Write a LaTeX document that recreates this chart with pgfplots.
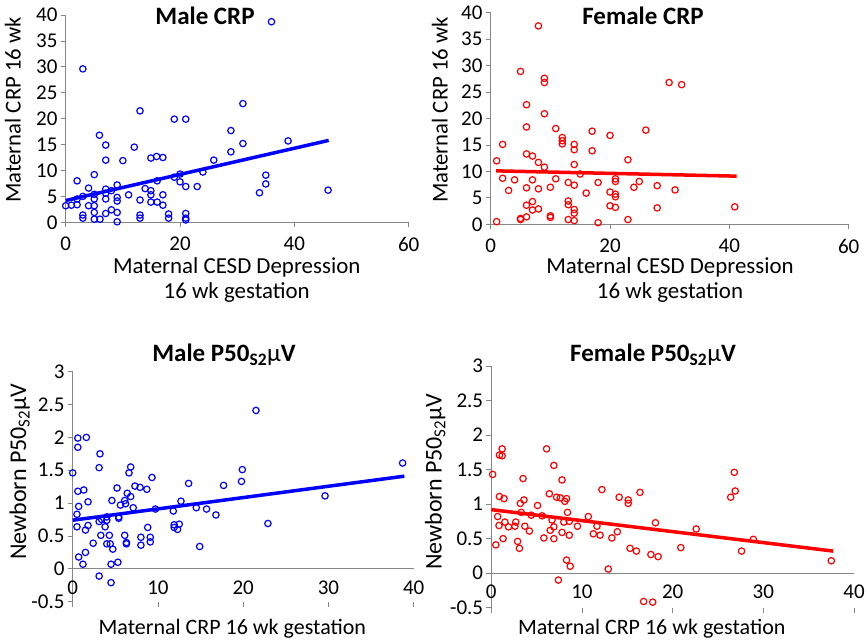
\documentclass[border=0pt]{standalone}
\usepackage{fontspec}
\setmainfont{Carlito}
\usepackage{pgfplots}
\pgfplotsset{compat=1.18}
\definecolor{axgray}{RGB}{134,134,134}
\definecolor{myblue}{RGB}{0,0,255}
\definecolor{myred}{RGB}{255,0,0}
\pgfplotsset{
  myax/.style={
    scale only axis, anchor=south west, clip=false,
    axis y line*=left,
    axis line style={draw=axgray, line width=0.8pt},
    every tick/.style={draw=axgray, line width=0.8pt},
    major tick length=5pt, tick align=outside,
    ticklabel style={font=\fontsize{21}{23}\selectfont, inner sep=0pt},
    yticklabel style={xshift=-3pt},
    /pgf/number format/assume math mode=true,
    xtick pos=bottom, ytick pos=left,
    hide obscured x ticks=false, hide obscured y ticks=false,
  },
  pts/.style={only marks, mark=o, mark size=3.2pt, mark options={line width=1.2pt}},
}
\newcommand{\labA}{\fontsize{22.9}{25}\selectfont}
\newcommand{\labY}{\fontsize{22.7}{24}\selectfont}
\newcommand{\labB}{\fontsize{22}{24}\selectfont}
\newcommand{\labN}{\fontsize{24}{26}\selectfont}
\newcommand{\ttl}{\fontsize{25}{27}\selectfont\bfseries}
\tikzset{lbl/.style={anchor=base, inner sep=0pt}}
\begin{document}
\begin{tikzpicture}
\useasboundingbox (0pt,0pt) rectangle (867pt,644pt);

% ---------------- Male CRP ----------------
\begin{axis}[myax, axis x line*=bottom, at={(65.7pt,421.7pt)}, width=343pt, height=207.3pt,
  xmin=0, xmax=60, ymin=0, ymax=40, xtick={0,20,40,60}, ytick={0,5,...,40},
  xticklabel style={yshift=-9.5pt}]
\addplot[pts, color=myblue] coordinates {
(36.0,38.7)(3.0,29.6)(13.0,21.5)(19.0,19.9)(21.0,19.9)(31.0,22.9)(28.9,17.7)(5.9,16.8)
(7.0,14.9)(12.0,14.5)(31.0,15.2)(38.9,15.7)(28.9,13.6)(14.9,12.4)(15.9,12.7)(17.0,12.5)
(7.0,12.0)(10.0,11.9)(25.9,12.0)(24.0,9.7)(20.0,9.3)(19.0,8.7)(5.0,9.2)(2.0,8.0)
(16.0,8.0)(20.0,7.8)(35.0,9.1)(35.0,7.4)(21.0,6.9)(23.0,6.9)(45.9,6.2)(33.9,5.7)
(4.0,6.6)(9.0,7.2)(7.0,6.4)(8.0,6.1)(13.9,6.5)(14.9,6.1)(14.9,5.3)(17.0,5.3)
(11.0,5.3)(5.0,5.4)(3.0,5.0)(7.0,5.6)(7.0,4.5)(5.0,4.5)(9.0,4.8)(9.0,4.1)
(13.0,4.3)(14.9,3.9)(16.0,3.9)(2.0,4.5)(2.0,3.4)(1.0,3.3)(0.0,3.2)(4.0,3.2)
(5.0,3.2)(17.0,3.3)(8.0,2.4)(7.0,1.7)(5.0,1.9)(9.0,1.9)(3.0,1.4)(3.0,0.8)
(13.0,1.4)(13.0,0.8)(18.0,1.6)(18.0,0.8)(21.0,1.7)(21.0,0.8)(5.0,0.6)(6.0,0.6)
(9.0,0.1)(21.0,0.45)
};
\addplot[color=myblue, line width=3.5pt] coordinates {(0,4.2)(46,15.8)};
\end{axis}

% ---------------- Female CRP ----------------
\begin{axis}[myax, axis x line*=bottom, at={(490.7pt,419.7pt)}, width=358pt, height=211.6pt,
  xmin=0, xmax=60, ymin=0, ymax=40, xtick={0,20,40,60}, ytick={0,5,...,40},
  xticklabel style={yshift=-9.5pt}]
\addplot[pts, color=myred] coordinates {
(8.0,37.5)(5.0,28.9)(9.0,27.6)(9.0,26.8)(29.9,26.8)(32.0,26.4)(6.0,22.6)(9.0,20.9)
(6.0,18.4)(10.9,18.1)(17.0,17.6)(26.0,17.8)(20.0,16.8)(12.0,16.4)(12.0,15.8)(12.0,15.2)
(2.0,15.1)(14.0,15.1)(14.0,14.1)(17.0,13.9)(6.0,13.3)(7.0,12.9)(23.0,12.2)(1.0,12.0)
(8.0,11.7)(14.0,11.3)(9.0,10.8)(15.0,9.5)(2.0,8.7)(4.0,8.4)(7.0,8.4)(10.9,8.6)
(20.9,8.6)(20.9,8.1)(24.9,8.1)(13.0,7.9)(18.0,7.9)(14.0,7.4)(27.9,7.3)(6.0,6.9)
(10.0,7.0)(24.0,7.0)(8.0,6.7)(3.0,6.4)(30.9,6.5)(20.0,6.1)(16.0,5.9)(20.9,5.7)
(20.9,5.2)(7.0,4.3)(13.0,4.4)(13.0,3.7)(6.0,3.6)(20.0,3.5)(20.9,3.2)(27.9,3.1)
(40.9,3.3)(8.0,2.9)(14.0,2.8)(7.0,2.7)(14.0,2.1)(6.0,1.4)(10.0,1.6)(10.0,1.3)
(5.0,1.1)(5.0,0.9)(13.0,0.9)(23.0,0.9)(14.0,0.7)(1.0,0.5)(18.0,0.3)
};
\addplot[color=myred, line width=3.5pt] coordinates {(0.9,10.1)(41.2,9.1)};
\end{axis}

% ---------------- Male P50 ----------------
\begin{axis}[myax, axis x line*=middle, at={(72.7pt,42.3pt)}, width=341pt, height=230pt,
  xmin=0, xmax=40, ymin=-0.5, ymax=3, xtick={0,10,...,40}, ytick={-0.5,0,...,3},
  xticklabel style={yshift=-7pt}]
\addplot[pts, color=myblue] coordinates {
(21.5,2.41)(38.7,1.61)(0.0,1.46)(0.6,1.99)(1.6,2.00)(0.6,1.85)(3.2,1.75)(3.1,1.54)
(6.8,1.55)(6.6,1.46)(9.3,1.39)(19.9,1.51)(19.8,1.33)(13.6,1.30)(17.7,1.27)(5.2,1.23)
(7.3,1.26)(7.9,1.24)(8.7,1.21)(0.6,1.18)(1.3,1.20)(6.4,1.15)(6.8,1.10)(29.6,1.11)
(1.8,1.02)(4.6,1.04)(12.7,1.03)(6.1,1.04)(6.2,0.99)(5.6,0.97)(0.7,0.95)(7.1,0.93)
(9.7,0.91)(14.5,0.93)(15.7,0.91)(11.8,0.88)(16.8,0.82)(0.5,0.83)(5.4,0.79)(4.0,0.79)
(3.4,0.75)(3.1,0.72)(4.0,0.74)(5.4,0.77)(22.9,0.69)(1.8,0.66)(0.5,0.64)(3.8,0.64)
(8.8,0.63)(11.9,0.67)(12.5,0.68)(11.9,0.63)(12.3,0.60)(1.5,0.59)(3.3,0.51)(4.3,0.51)
(6.1,0.51)(9.1,0.48)(8.0,0.48)(2.4,0.39)(4.0,0.38)(4.4,0.38)(6.3,0.40)(6.3,0.38)
(9.1,0.41)(8.0,0.36)(4.7,0.30)(14.9,0.34)(1.5,0.25)(0.7,0.18)(5.3,0.10)(1.2,0.07)
(4.5,0.07)(3.1,-0.11)(4.5,-0.21)
};
\addplot[color=myblue, line width=3.5pt] coordinates {(0,0.74)(38.9,1.41)};
\end{axis}

% ---------------- Female P50 ----------------
\begin{axis}[myax, axis x line*=middle, at={(491.3pt,36.3pt)}, width=362.7pt, height=241.7pt,
  xmin=0, xmax=40, ymin=-0.5, ymax=3, xtick={0,10,...,40}, ytick={-0.5,0,...,3},
  xticklabel style={yshift=-7pt}]
\addplot[pts, color=myred] coordinates {
(0.15,1.43)(0.5,0.41)(1.2,1.80)(0.9,1.71)(1.2,1.70)(0.9,1.11)(1.4,1.08)(0.7,0.82)
(0.85,0.69)(1.5,0.74)(1.3,0.50)(1.9,0.67)(2.7,0.74)(2.6,0.68)(2.9,0.46)(3.1,0.36)
(3.5,1.37)(3.6,1.06)(3.2,1.01)(3.3,0.88)(3.7,0.68)(4.2,0.61)(4.4,0.84)(5.1,0.98)
(5.6,0.83)(5.8,0.51)(6.1,1.80)(6.4,1.15)(6.5,0.62)(6.7,0.77)(6.9,0.67)(6.9,0.50)
(6.9,1.56)(7.2,1.10)(7.6,1.09)(7.4,-0.10)(7.8,1.35)(7.8,0.59)(8.0,0.74)(8.1,1.04)
(8.3,1.08)(8.4,0.88)(8.3,0.19)(8.6,0.75)(8.6,0.55)(8.7,0.10)(9.5,0.68)(10.7,0.82)
(11.25,0.57)(11.65,0.68)(12.0,0.55)(12.2,1.21)(12.9,0.06)(13.3,0.51)(13.9,0.60)(14.1,1.10)
(15.1,1.06)(15.1,1.01)(15.3,0.36)(16.0,0.32)(16.4,1.17)(16.8,-0.41)(17.8,-0.42)(17.6,0.27)
(18.1,0.73)(18.4,0.24)(20.9,0.37)(22.6,0.64)(26.4,1.10)(26.8,1.46)(26.9,1.19)(27.6,0.32)
(28.9,0.49)(37.5,0.18)
};
\addplot[color=myred, line width=3.5pt] coordinates {(0,0.92)(37.7,0.32)};
\end{axis}

% ---------------- titles ----------------
\node[lbl] at (205pt,619pt) {\ttl Male CRP};
\node[lbl] at (643pt,619pt) {\ttl Female CRP};
\node[lbl] at (224pt,282.3pt) {\ttl Male P50\textsubscript{S2}\textmd{μ}V};
\node[lbl] at (653pt,282.3pt) {\ttl Female P50\textsubscript{S2}\textmd{μ}V};

% ---------------- axis labels ----------------
\node[lbl] at (236.7pt,370.3pt) {\labA Maternal CESD Depression};
\node[lbl] at (236.7pt,345.2pt) {\labA 16 wk gestation};
\node[lbl] at (670pt,370.3pt) {\labA Maternal CESD Depression};
\node[lbl] at (670pt,345.2pt) {\labA 16 wk gestation};
\node[lbl, rotate=90] at (20.7pt,534pt) {\labY Maternal CRP 16 wk};
\node[lbl, rotate=90] at (447.5pt,534pt) {\labY Maternal CRP 16 wk};
\node[lbl] at (232.3pt,9.7pt) {\labB Maternal CRP 16 wk gestation};
\node[lbl] at (651.7pt,9pt) {\labB Maternal CRP 16 wk gestation};
\node[lbl, rotate=90] at (26pt,172.3pt) {\labN Newborn P50\textsubscript{S2}μV};
\node[lbl, rotate=90] at (441.7pt,162.3pt) {\labN Newborn P50\textsubscript{S2}μV};
\end{tikzpicture}
\end{document}
